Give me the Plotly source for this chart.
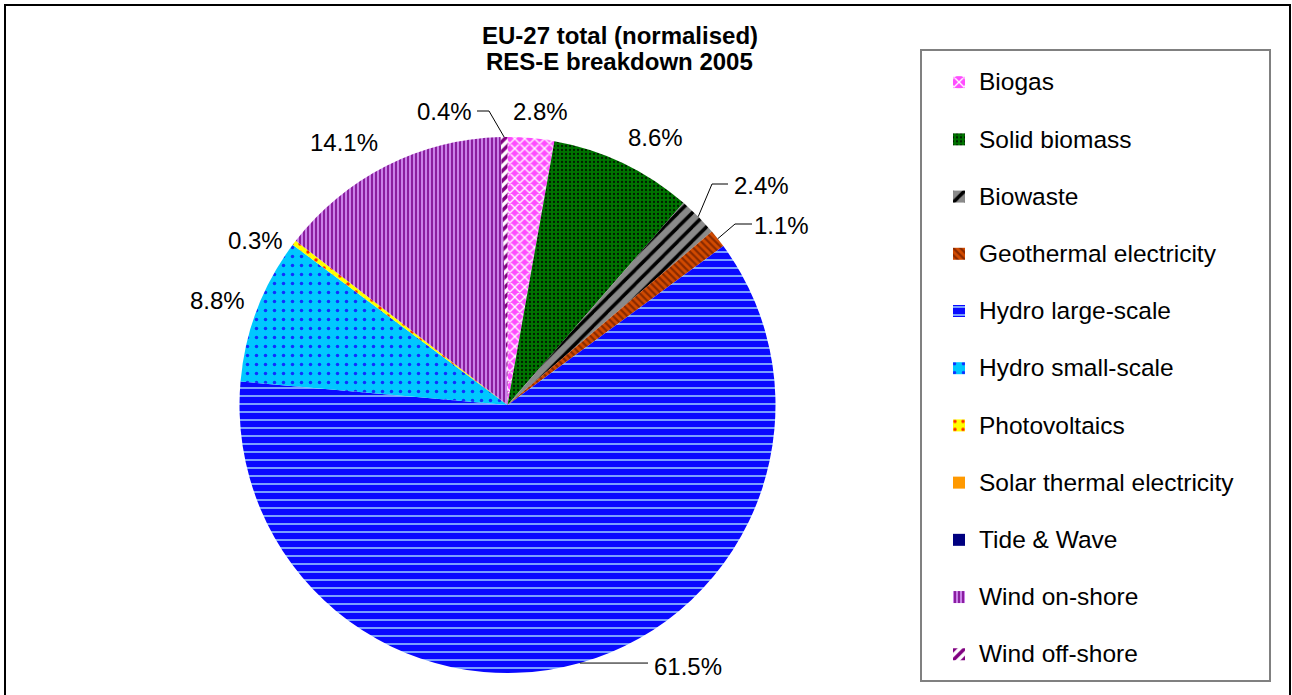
import math
import plotly.graph_objects as go

W, H = 1292, 695

# ---- data -------------------------------------------------------------
categories = [
    "Biogas", "Solid biomass", "Biowaste", "Geothermal electricity",
    "Hydro large-scale", "Hydro small-scale", "Photovoltaics",
    "Solar thermal electricity", "Tide & Wave", "Wind on-shore", "Wind off-shore",
]
shares = [2.8, 8.6, 2.4, 1.1, 61.5, 8.8, 0.3, 0.0, 0.0, 14.1, 0.4]

title_lines = ["EU-27 total (normalised)", "RES-E breakdown 2005"]

# ---- fills (background colour + hatch) ------------------------------------
fill_bg = ["#FF4DFF", "#007400", "#8A8A8A", "#D24A00", "#0A0AFF", "#00C8FF",
           "#FFFF00", "#FF9900", "#000080", "#8A1E9E", "#FFFFFF"]
fill_fg = ["#FFFFFF", "#001A00", "#000000", "#8A2A00", "#7AA0FF", "#1030FF",
           "#FF2A00", "#FF9900", "#000080", "#D08CF0", "#800080"]
fill_shape = ["x", ".", "/", "\\", "-", ".", ".", "", "", "|", "/"]
fill_size = [7, 4, 10, 5, 8, 9, 8, 8, 8, 4, 7]
fill_solidity = [0.35, 0.25, 0.35, 0.45, 0.25, 0.12, 0.15, 0.3, 0.3, 0.45, 0.5]

# ---- geometry helpers (pixel -> paper) ---------------------------------
CX, CY, R = 507.5, 405.0, 268.0
FONT = "Liberation Sans, Arial, sans-serif"


def px(x):
    return x / W


def py(y):
    return 1 - y / H


# text centres of the percentage labels (pixels)
label_pos = {
    "Biogas": (540, 112),
    "Solid biomass": (655, 137),
    "Biowaste": (761, 185),
    "Geothermal electricity": (781, 225),
    "Hydro large-scale": (688, 666),
    "Hydro small-scale": (217, 300),
    "Photovoltaics": (255, 241),
    "Wind on-shore": (344, 142),
    "Wind off-shore": (444, 111),
}
# leader lines: (elbow x, elbow y, end x) in pixels
leaders = {
    "Wind off-shore": (489, 111, 477),
    "Biowaste": (712, 184, 728),
    "Geothermal electricity": (735, 224, 752),
    "Hydro large-scale": (None, None, 648),
}

# a blank first line widens the spacing between legend entries
legend_names = [f"\u00a0<br><span style='font-size:24.5px'>{c}</span>" for c in categories]

fig = go.Figure()
fig.add_trace(go.Pie(
    labels=legend_names,
    values=shares,
    sort=False,
    direction="clockwise",
    rotation=0,
    textinfo="none",
    hoverinfo="skip",
    domain=dict(x=[px(CX - R), px(CX + R)], y=[py(CY + R), py(CY - R)]),
    marker=dict(
        colors=fill_bg,
        line=dict(width=0),
        pattern=dict(shape=fill_shape, fgcolor=fill_fg, bgcolor=fill_bg,
                     size=fill_size, solidity=fill_solidity, fillmode="replace"),
    ),
))

annotations = []
shapes = []

total = sum(shares)
cum = 0.0
for name, v in zip(categories, shares):
    mid = (cum + v / 2) / total * 2 * math.pi
    cum += v
    if name not in label_pos:
        continue
    lx, ly = label_pos[name]
    annotations.append(dict(
        x=px(lx), y=py(ly), xref="paper", yref="paper",
        text=f"{v:.1f}%", showarrow=False, xanchor="center", yanchor="middle",
        font=dict(family=FONT, size=24, color="black"),
    ))
    if name in leaders:
        ex, ey = CX + R * math.sin(mid), CY - R * math.cos(mid)
        bx, by, endx = leaders[name]
        if bx is None:
            path = f"M{px(ex)},{py(ey)} L{px(endx)},{py(ey)}"
        else:
            path = f"M{px(ex)},{py(ey)} L{px(bx)},{py(by)} L{px(endx)},{py(by)}"
        shapes.append(dict(type="path", path=path, xref="paper", yref="paper",
                           line=dict(color="black", width=1)))

# chart title, one annotation per line
for t, ty in zip(title_lines, (35, 61.5)):
    annotations.append(dict(
        x=px(619.5), y=py(ty), xref="paper", yref="paper",
        text=f"<b>{t}</b>", showarrow=False, xanchor="center", yanchor="middle",
        font=dict(family=FONT, size=24, color="black"),
    ))

# legend frame
shapes.append(dict(type="rect", xref="paper", yref="paper",
                   x0=px(921), x1=px(1270), y0=py(681), y1=py(50),
                   line=dict(color="#808080", width=2), layer="below"))
# outer chart frame
shapes.append(dict(type="rect", xref="paper", yref="paper",
                   x0=px(5), x1=px(1290), y0=py(705), y1=py(5),
                   line=dict(color="black", width=2), layer="below"))

fig.update_layout(
    width=W, height=H,
    margin=dict(l=0, r=0, t=0, b=0),
    paper_bgcolor="white", plot_bgcolor="white",
    font=dict(family=FONT, color="black"),
    showlegend=True,
    legend=dict(
        x=px(939), y=py(35), xanchor="left", yanchor="top",
        font=dict(size=20.85, color="black"),
        bgcolor="rgba(0,0,0,0)", borderwidth=0,
        valign="bottom", traceorder="normal",
    ),
    annotations=annotations,
    shapes=shapes,
)

fig.write_html("out.html")
